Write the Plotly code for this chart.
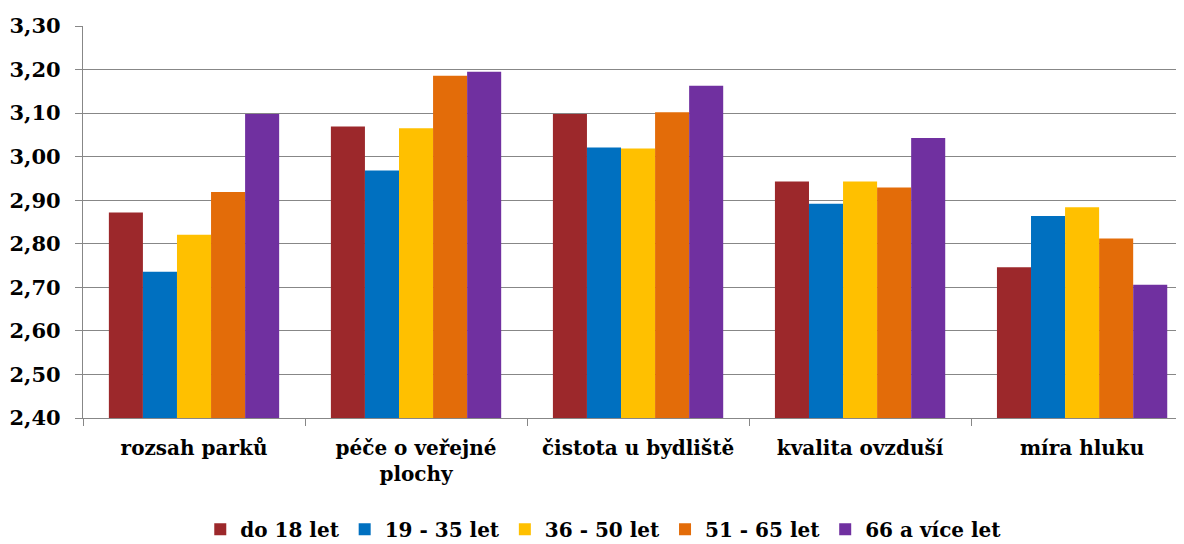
import plotly.graph_objects as go

categories = ["rozsah parků", "péče o veřejné<br>plochy", "čistota u bydliště", "kvalita ovzduší", "míra hluku"]
series_names = ["do 18 let", "19 - 35 let", "36 - 50 let", "51 - 65 let", "66 a více let"]
do18 = [2.872, 3.069, 3.098, 2.943, 2.746]
v19_35 = [2.736, 2.968, 3.021, 2.892, 2.864]
v36_50 = [2.821, 3.065, 3.019, 2.943, 2.884]
v51_65 = [2.919, 3.186, 3.102, 2.929, 2.812]
v66 = [3.098, 3.195, 3.163, 3.043, 2.706]
colors = ["#9C282B", "#0070C0", "#FFC000", "#E36C09", "#7030A0"]
y_ticks = [2.4, 2.5, 2.6, 2.7, 2.8, 2.9, 3.0, 3.1, 3.2, 3.3]

FONT = "DejaVu Serif"
fig = go.Figure()
for name, vals, col in zip(series_names, [do18, v19_35, v36_50, v51_65, v66], colors):
    fig.add_trace(go.Bar(x=categories, y=vals, name=name, marker_color=col,
                         marker_line_width=0))

fig.update_layout(
    width=1176, height=536,
    margin=dict(l=75, r=0, t=18, b=126, autoexpand=False),
    plot_bgcolor="white", paper_bgcolor="white",
    barmode="group", bargap=0.233, bargroupgap=0,
    font=dict(family=FONT, size=20, color="black"),
    separators=",.",
    legend=dict(orientation="h", x=0.473, xanchor="center", y=-0.284, yanchor="middle",
                font=dict(family=FONT, size=20, color="black", weight="bold"),
                itemwidth=30, tracegroupgap=0),
)
fig.update_yaxes(range=[2.4, 3.3], tickvals=y_ticks, tickformat=".2f", automargin=False,
                 showgrid=True, gridcolor="#878787", gridwidth=1.3,
                 showline=True, linecolor="#878787", linewidth=1.3,
                 ticks="outside", ticklen=7, tickcolor="#878787", tickwidth=1.3,
                 tickfont=dict(family=FONT, size=21, color="black", weight="bold"),
                 ticklabelstandoff=10, zeroline=False)
fig.update_xaxes(range=[-0.5, 4.459], showline=True, linecolor="#878787", linewidth=1.3,
                 automargin=False,
                 ticks="outside", ticklen=7, tickcolor="#878787", tickwidth=1.3,
                 tickson="boundaries", showgrid=False,
                 tickfont=dict(family=FONT, size=20, color="black", weight="bold"),
                 ticklabelstandoff=12)

fig.write_html("out.html")
